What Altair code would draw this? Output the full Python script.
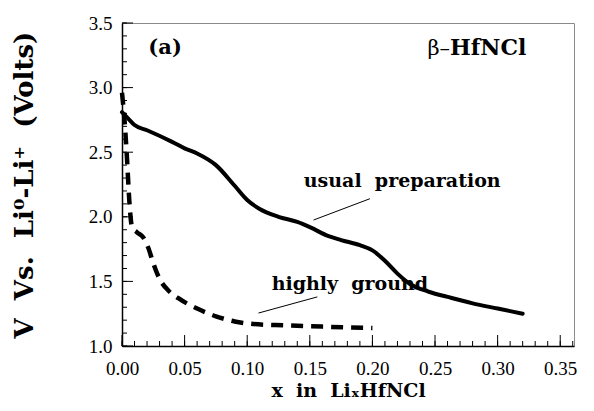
import altair as alt
import pandas as pd

# ---- data ----
usual_x = [0.000, 0.005, 0.010, 0.020, 0.040, 0.050, 0.060, 0.075, 0.090, 0.100, 0.110, 0.125,
           0.140, 0.150, 0.165, 0.175, 0.190, 0.200, 0.210, 0.220, 0.230, 0.245, 0.260, 0.280,
           0.300, 0.320]
usual_y = [2.81, 2.76, 2.71, 2.67, 2.58, 2.53, 2.49, 2.40, 2.24, 2.13, 2.06, 2.00,
           1.96, 1.92, 1.85, 1.82, 1.78, 1.74, 1.66, 1.56, 1.48, 1.42, 1.38, 1.33,
           1.29, 1.25]

ground_x = [0.000, 0.002, 0.004, 0.006, 0.008, 0.012, 0.017, 0.021, 0.025, 0.030, 0.037,
            0.045, 0.060, 0.075, 0.090, 0.105, 0.130, 0.160, 0.200]
ground_y = [2.96, 2.75, 2.45, 2.10, 1.92, 1.88, 1.84, 1.76, 1.64, 1.52, 1.43,
            1.37, 1.29, 1.23, 1.19, 1.17, 1.16, 1.15, 1.14]

x_tick_values = [0.00, 0.05, 0.10, 0.15, 0.20, 0.25, 0.30, 0.35]
y_tick_values = [1.0, 1.5, 2.0, 2.5, 3.0, 3.5]
x_minor_values = [i / 100 for i in range(0, 37)]
y_minor_values = [round(1 + i / 10, 1) for i in range(0, 26)]

label_text = ["usual\u00a0\u00a0preparation", "highly\u00a0\u00a0ground"]
label_x = [0.2238, 0.182]
label_y = [2.231, 1.433]

leader_x = [0.198, 0.156]
leader_y = [2.14, 1.38]
leader_x2 = [0.153, 0.109]
leader_y2 = [1.975, 1.255]

W, H = 452, 323
XDOM = [0, 0.361]
YDOM = [1.0, 3.5]

xs = alt.Scale(domain=XDOM, nice=False, zero=False)
ys = alt.Scale(domain=YDOM, nice=False, zero=False)

X_TITLE = "x\u00a0\u00a0in\u00a0\u00a0Li\u2093HfNCl"
Y_TITLE = "V\u00a0\u00a0Vs.\u00a0\u00a0Li\u2070-Li\u207a\u00a0\u00a0(Volts)"

xaxis = alt.Axis(values=x_tick_values, format=".2f", ticks=False, tickSize=0,
                 labelPadding=13, grid=False, labelFlush=False, labelOverlap=False,
                 title=X_TITLE, titlePadding=3)
yaxis = alt.Axis(values=y_tick_values, format=".1f", ticks=False, tickSize=0,
                 labelPadding=10, grid=False, labelFlush=False, labelOverlap=False,
                 title=Y_TITLE, titlePadding=51)


def X(f):
    return alt.X(f, scale=xs, axis=xaxis, title=X_TITLE)


def Y(f):
    return alt.Y(f, scale=ys, axis=yaxis, title=Y_TITLE)


usual_df = pd.DataFrame({"x": usual_x, "y": usual_y})
ground_df = pd.DataFrame({"x": ground_x, "y": ground_y})

solid = alt.Chart(usual_df).mark_line(
    color="black", strokeWidth=4, interpolate="monotone", strokeCap="round"
).encode(x=X("x:Q"), y=Y("y:Q"))

dashed = alt.Chart(ground_df).mark_line(
    color="black", strokeWidth=4.5, interpolate="monotone", strokeDash=[12, 8], strokeCap="butt"
).encode(x=X("x:Q"), y=Y("y:Q"))

leader_df = pd.DataFrame({"x": leader_x, "y": leader_y, "x2": leader_x2, "y2": leader_y2})
leaders = alt.Chart(leader_df).mark_rule(color="black", strokeWidth=1).encode(
    x=X("x:Q"), y=Y("y:Q"), x2="x2:Q", y2="y2:Q",
)

labels_df = pd.DataFrame({"x": label_x, "y": label_y, "t": label_text})
labels = alt.Chart(labels_df).mark_text(
    font="DejaVu Serif", fontWeight="bold", fontSize=19, align="center",
    baseline="alphabetic", color="black"
).encode(x=X("x:Q"), y=Y("y:Q"), text="t:N")

panel_df = pd.DataFrame({"x": [0.0344], "y": [3.26], "t": ["(a)"]})
panel = alt.Chart(panel_df).mark_text(
    font="DejaVu Serif", fontWeight="bold", fontSize=21, align="center",
    baseline="alphabetic", color="black"
).encode(x=X("x:Q"), y=Y("y:Q"), text="t:N")

beta_df = pd.DataFrame({"x": [0.262], "y": [3.255], "t": ["\u03b2\u2013"]})
beta = alt.Chart(beta_df).mark_text(
    font="DejaVu Serif", fontSize=21, align="right", baseline="alphabetic", color="black"
).encode(x=X("x:Q"), y=Y("y:Q"), text="t:N")

hf_df = pd.DataFrame({"x": [0.262], "y": [3.255], "t": ["HfNCl"]})
hf = alt.Chart(hf_df).mark_text(
    font="DejaVu Serif", fontWeight="bold", fontSize=22, align="left",
    baseline="alphabetic", color="black"
).encode(x=X("x:Q"), y=Y("y:Q"), text="t:N")

# inward ticks
xmin_df = pd.DataFrame({"x": x_minor_values})
xmaj_df = pd.DataFrame({"x": x_tick_values})
ymin_df = pd.DataFrame({"y": y_minor_values})
ymaj_df = pd.DataFrame({"y": y_tick_values})

xminor = alt.Chart(xmin_df).mark_rule(color="black", strokeWidth=1).encode(
    x=X("x:Q"), y=alt.value(H), y2=alt.value(H - 5))
xmajor = alt.Chart(xmaj_df).mark_rule(color="black", strokeWidth=1).encode(
    x=X("x:Q"), y=alt.value(H), y2=alt.value(H - 11))
yminor = alt.Chart(ymin_df).mark_rule(color="black", strokeWidth=1).encode(
    y=Y("y:Q"), x=alt.value(0), x2=alt.value(5))
ymajor = alt.Chart(ymaj_df).mark_rule(color="black", strokeWidth=1).encode(
    y=Y("y:Q"), x=alt.value(0), x2=alt.value(11))

chart = alt.layer(
    solid, dashed, leaders, labels, panel, beta, hf, xminor, xmajor, yminor, ymajor
).properties(
    width=W, height=H,
    autosize=alt.AutoSizeParams(type="none"),
    padding={"left": 114, "top": 15, "right": 12, "bottom": 57},
    background="white",
).configure_view(
    stroke="#8a8a8a", strokeWidth=1
).configure_axis(
    labelFont="Liberation Serif", labelFontSize=19, labelColor="black",
    titleFont="DejaVu Serif", titleFontWeight="bold", titleColor="black",
    domainColor="black", domainWidth=1.5,
).configure_axisX(
    titleFontSize=19,
).configure_axisY(
    titleFontSize=26,
)

chart.save("out.html", embed_options={"renderer": "svg", "actions": False})
